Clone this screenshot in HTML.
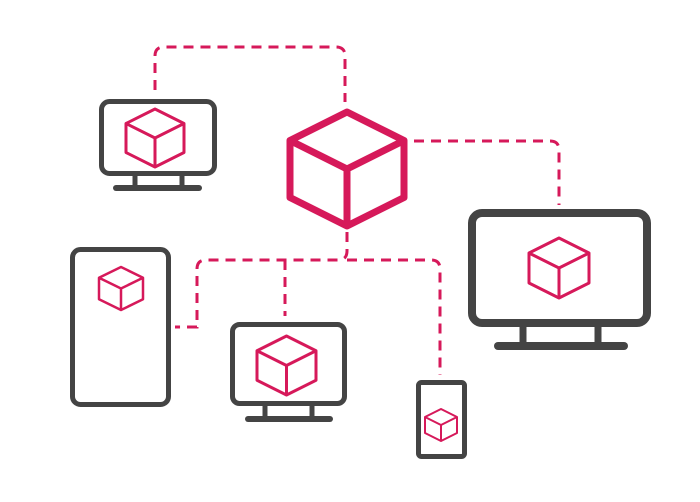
<!DOCTYPE html>
<html><head><meta charset="utf-8"><style>html,body{margin:0;padding:0;background:#fff}svg{display:block}</style></head>
<body>
<svg width="700" height="502" viewBox="0 0 700 502" xmlns="http://www.w3.org/2000/svg">
<g fill="none" stroke="#d6195a" stroke-width="3" stroke-dasharray="10 7">
<path d="M155,90 V56 Q155,47 164,47 H336 Q345,47 345,56 V102"/>
<path d="M414,141 H550 Q559,141 559,150 V205"/>
<path d="M347,232 V251 Q347,260 338,260 H206 Q197,260 197,269 V327 H175"/>
<path d="M285,260 V316"/>
<path d="M347,260 H431 Q440,260 440,269 V375"/>
</g>
<g fill="none" stroke="#444" stroke-linecap="round" stroke-linejoin="round">
<rect x="101.5" y="101.5" width="113" height="72" rx="8" stroke-width="5"/>
<path d="M135,176 V186 M182,176 V186" stroke-width="5"/>
<path d="M116,188 H199" stroke-width="6"/>
<rect x="72.5" y="249.5" width="96" height="155" rx="8" stroke-width="5"/>
<rect x="232.5" y="324.5" width="112" height="79" rx="7" stroke-width="5"/>
<path d="M265,406 V417 M312,406 V417" stroke-width="5"/>
<path d="M248,419 H330" stroke-width="6"/>
<rect x="418.5" y="382.5" width="46" height="74" rx="3" stroke-width="5"/>
<rect x="472" y="213" width="175" height="110" rx="10" stroke-width="8"/>
<path d="M523,327 V342 M598,327 V342" stroke-width="7"/>
<path d="M498,346 H624" stroke-width="8"/>
</g>
<g fill="none" stroke="#d6195a" stroke-linejoin="round">
<path stroke-width="7" d="M347,112 L404,140.5 L404,197.5 L347,226 L290,197.5 L290,140.5Z M290,140.5 L347,169 L404,140.5 M347,169 V226"/>
<path stroke-width="3" d="M155,109 L184,123.5 L184,152.5 L155,167 L126,152.5 L126,123.5Z M126,123.5 L155,138 L184,123.5 M155,138 V167"/>
<path stroke-width="2.5" d="M121,267 L143,277.75 L143,299.25 L121,310 L99,299.25 L99,277.75Z M99,277.75 L121,288.5 L143,277.75 M121,288.5 V310"/>
<path stroke-width="3" d="M286.5,336 L316,350.75 L316,380.25 L286.5,395 L257,380.25 L257,350.75Z M257,350.75 L286.5,365.5 L316,350.75 M286.5,365.5 V395"/>
<path stroke-width="2" d="M441,409 L457,417 L457,433 L441,441 L425,433 L425,417Z M425,417 L441,425 L457,417 M441,425 V441"/>
<path stroke-width="3" d="M559,238 L589,253 L589,283 L559,298 L529,283 L529,253Z M529,253 L559,268 L589,253 M559,268 V298"/>
</g>
</svg>
</body></html>
